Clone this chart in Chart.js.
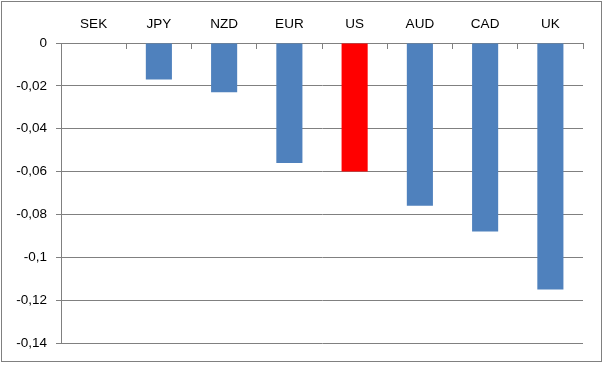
<!DOCTYPE html>
<html>
<head>
<meta charset="utf-8">
<script src="https://cdn.jsdelivr.net/npm/chart.js@4/dist/chart.umd.min.js"></script>
<style>
  html, body { margin: 0; padding: 0; background: #fff; }
  #wrap { width: 607px; height: 365px; position: relative; }
</style>
</head>
<body>
<div id="wrap"><canvas id="chart"></canvas></div>
<script>
/* ── Data ── */
const CATEGORIES = ['SEK', 'JPY', 'NZD', 'EUR', 'US', 'AUD', 'CAD', 'UK'];
const VALUES     = [0, -0.017, -0.023, -0.056, -0.060, -0.076, -0.088, -0.115];
const BAR_COLORS = ['#4f81bd', '#4f81bd', '#4f81bd', '#4f81bd', '#ff0000', '#4f81bd', '#4f81bd', '#4f81bd'];
const Y_MIN  = -0.14;
const Y_MAX  = 0;
const Y_STEP = 0.02;

const GRID = '#808080';
const FONT = { family: '"Liberation Sans", Arial, sans-serif', size: 13.5 };

// outer frame around the whole chart, like the Excel chart border
const framePlugin = {
  id: 'frame',
  afterDraw(chart) {
    const ctx = chart.ctx;
    ctx.save();
    ctx.strokeStyle = GRID;
    ctx.lineWidth = 1;
    ctx.strokeRect(1.5, 1.5, 600, 360);
    ctx.restore();
  },
};

const fmt = v => String(Math.round(v * 100) / 100).replace('.', ',');

new Chart(document.getElementById('chart'), {
  type: 'bar',
  data: {
    labels: CATEGORIES,
    datasets: [{
      data: VALUES,
      backgroundColor: BAR_COLORS,
      borderWidth: 0,
      barPercentage: 0.4,
      categoryPercentage: 1,
    }],
  },
  options: {
    responsive: true, maintainAspectRatio: false,
    animation: false,
    layout: { padding: { left: 0, top: 0, right: 24, bottom: 22 } },
    scales: {
      x: {
        position: 'top',
        offset: true,
        grid: { offset: true, drawOnChartArea: false, drawTicks: true, tickLength: -6, color: GRID },
        border: { color: GRID },
        ticks: { color: '#000', font: FONT, padding: 17, maxRotation: 0 },
        afterFit: s => { s.height = 43; },
      },
      y: {
        min: Y_MIN, max: Y_MAX,
        grid: { color: GRID, tickLength: 5 },
        border: { color: GRID },
        ticks: { stepSize: Y_STEP, color: '#000', font: FONT, padding: 9, callback: v => fmt(v) },
        afterFit: s => { s.width = 61; },
      },
    },
    plugins: { legend: { display: false }, tooltip: { enabled: false } },
  },
  plugins: [framePlugin],
});
</script>
</body>
</html>
